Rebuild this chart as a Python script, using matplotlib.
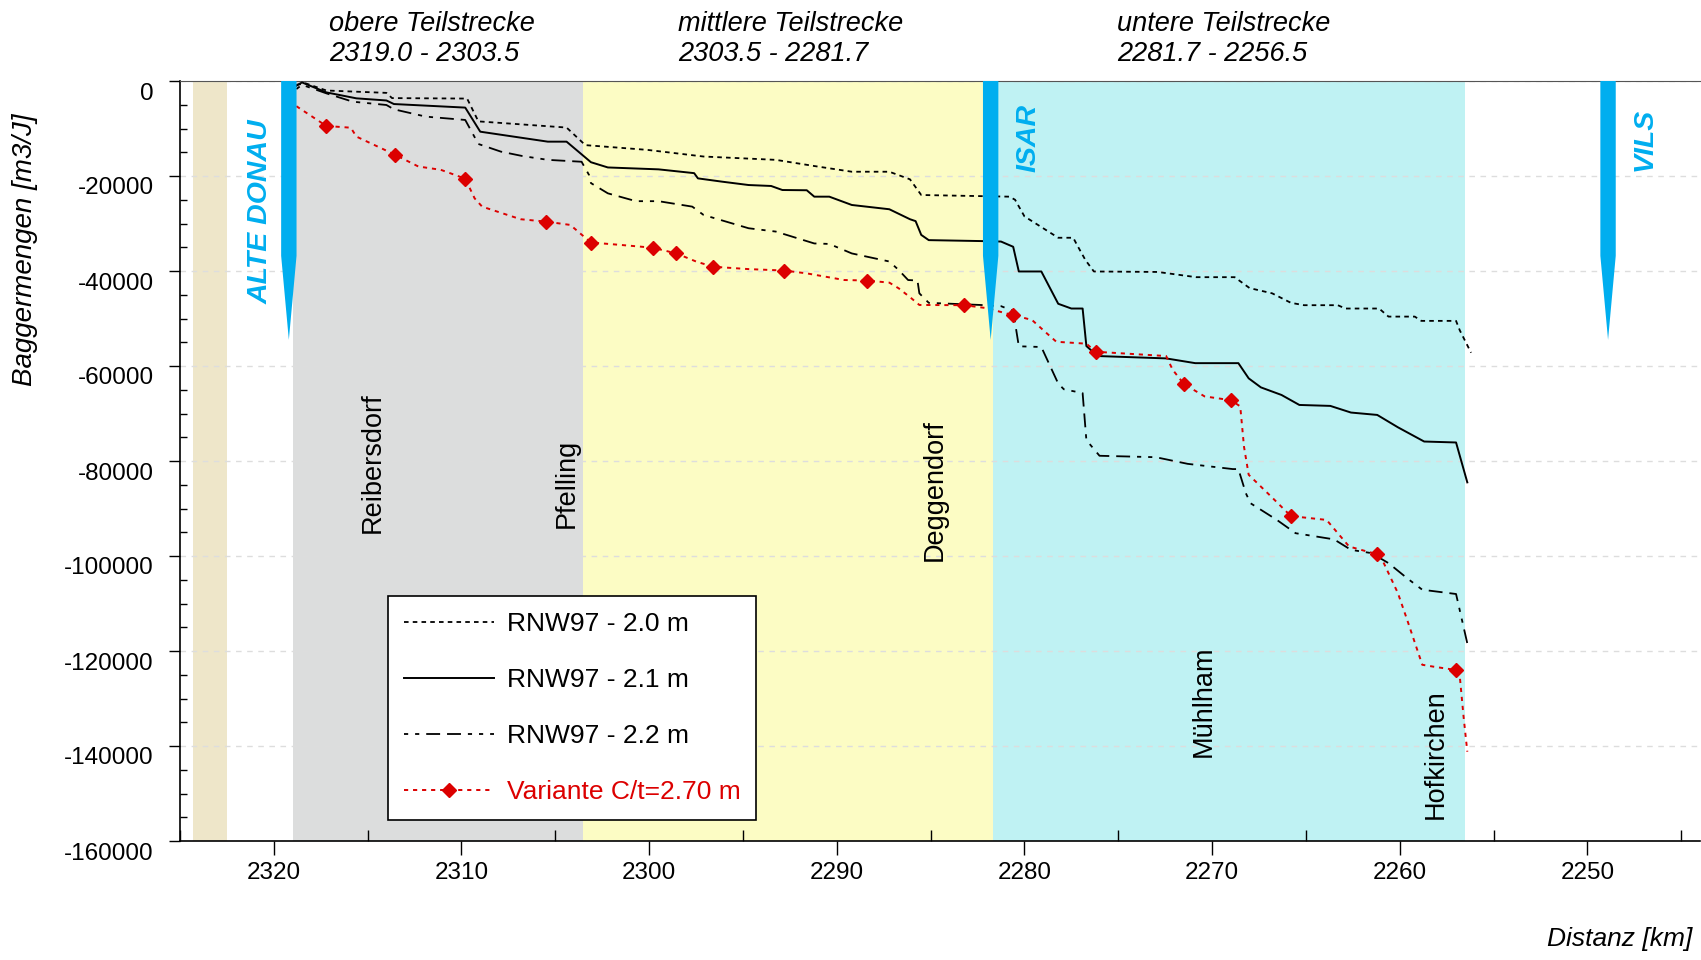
import matplotlib
matplotlib.use('Agg')
import matplotlib.pyplot as plt
import matplotlib.transforms as mtransforms
from matplotlib.lines import Line2D
import numpy as np

plt.rcParams['font.family'] = ['Liberation Sans', 'DejaVu Sans']
plt.rcParams['axes.unicode_minus'] = False
plt.rcParams['lines.scale_dashes'] = False

# river sections (km)
section_names = ['obere Teilstrecke', 'mittlere Teilstrecke', 'untere Teilstrecke']
section_start = [2319.0, 2303.5, 2281.7]
section_end = [2303.5, 2281.7, 2256.5]
section_colors = ['#dcdddd', '#fcfcc4', '#bff2f3']
extra_band = (2324.3, 2322.5)

# tributaries
rivers = ['ALTE DONAU', 'ISAR', 'VILS']
river_km = [2319.2, 2281.8, 2248.9]

# towns
towns = ['Reibersdorf', 'Pfelling', 'Deggendorf', 'Mühlham', 'Hofkirchen']
town_km = [2314.75, 2304.4, 2284.8, 2270.45, 2258.1]
town_label_y = [-80300, -84800, -86200, -130500, -141700]

# RNW97 - 2.0 m
km_20 = [2318.8, 2318.3, 2317.2, 2314.0, 2313.7, 2309.7, 2309.1, 2304.4, 2303.4,
         2300.1, 2297.1, 2293.25, 2291.2, 2289.2, 2287.2, 2286.1, 2285.5, 2280.8,
         2280.5, 2280.0, 2279.4, 2278.2, 2277.4, 2277.2, 2276.75, 2276.3, 2272.9,
         2270.85, 2268.8, 2268.0, 2266.8, 2265.8, 2265.1, 2263.3, 2262.9, 2261.1,
         2260.6, 2259.2, 2258.85, 2257.0, 2256.8, 2256.2]
val_20 = [-800, -500, -2000, -2500, -3600, -3700, -8500, -9800, -13500,
          -14500, -15900, -16600, -17900, -19100, -19100, -20700, -24000, -24350,
          -25000, -28500, -30000, -33000, -33000, -34500, -37700, -40100, -40200,
          -41300, -41300, -43600, -44700, -46700, -47200, -47200, -47900, -47900,
          -49600, -49600, -50500, -50500, -52500, -57200]

# RNW97 - 2.1 m
km_21 = [2318.8, 2318.5, 2317.2, 2315.6, 2314.0, 2313.6, 2309.8, 2309.0, 2306.6,
         2305.4, 2304.4, 2303.1, 2302.2, 2299.5, 2297.6, 2297.4, 2296.1, 2294.7,
         2293.5, 2292.9, 2291.6, 2291.2, 2290.4, 2289.2, 2287.2, 2286.1, 2285.8,
         2285.5, 2285.1, 2282.3, 2281.25, 2280.6, 2280.3, 2279.1, 2278.2, 2277.5,
         2276.9, 2276.7, 2276.1, 2272.45, 2270.9, 2268.6, 2268.05, 2267.4, 2266.3,
         2265.35, 2263.7, 2262.6, 2261.2, 2260.1, 2258.7, 2257.0, 2256.4]
val_21 = [-1000, -300, -2400, -3650, -4100, -4850, -5600, -10670, -12070,
          -12770, -12770, -17100, -18200, -18600, -19400, -20500, -21200, -21900,
          -22100, -22950, -23000, -24350, -24350, -26100, -27000, -29100, -29500,
          -32400, -33500, -33700, -33800, -34900, -40100, -40100, -46900, -47900,
          -47900, -55800, -57900, -58400, -59400, -59400, -62600, -64500, -66100,
          -68200, -68400, -69800, -70300, -72900, -75900, -76100, -84500]

# RNW97 - 2.2 m
km_22 = [2318.8, 2318.5, 2317.2, 2315.8, 2314.0, 2313.6, 2311.9, 2309.8, 2309.1,
         2307.9, 2306.75, 2305.4, 2303.6, 2303.2, 2303.1, 2302.2, 2300.7, 2299.5,
         2297.7, 2297.1, 2294.7, 2293.25, 2291.2, 2290.4, 2289.2, 2287.2, 2286.7,
         2286.2, 2285.7, 2285.6, 2285.1, 2282.05, 2281.25, 2280.6, 2280.3, 2279.1,
         2278.2, 2277.9, 2276.9, 2276.7, 2276.0, 2273.0, 2271.3, 2268.9, 2268.6,
         2268.2, 2267.95, 2266.55, 2265.55, 2263.5, 2262.6, 2261.5, 2260.6, 2259.6,
         2258.8, 2257.0, 2256.4]
val_22 = [-1700, -800, -2600, -4350, -5050, -5960, -7500, -8200, -13260,
          -14870, -15800, -16600, -17000, -19800, -21500, -23650, -25300, -25300,
          -26450, -28200, -31000, -31700, -34200, -34300, -36300, -38000, -39800,
          -41900, -42000, -44700, -46700, -47200, -47400, -48400, -55850, -56000,
          -63700, -64900, -65700, -75600, -78900, -79200, -80600, -81700, -81700,
          -86800, -88900, -92400, -95200, -96500, -98700, -99400, -101500, -104700,
          -107100, -108000, -118400]

# Variante C/t=2.70 m
km_var = [2318.8, 2317.2, 2315.9, 2315.6, 2313.55, 2312.3, 2311.1, 2309.8, 2309.3,
          2308.9, 2306.85, 2305.5, 2304.2, 2303.7, 2303.1, 2301.55, 2299.8, 2298.55,
          2297.5, 2296.6, 2294.7, 2292.8, 2291.6, 2289.6, 2288.4, 2287.2, 2286.7,
          2286.1, 2285.6, 2283.2, 2282.05, 2280.6, 2279.6, 2278.9, 2278.3, 2276.7,
          2276.2, 2272.45, 2272.1, 2271.5, 2270.4, 2269.0, 2268.5, 2268.3, 2268.05,
          2266.85, 2265.8, 2263.9, 2262.7, 2261.7, 2261.2, 2260.85, 2260.1, 2259.6,
          2258.8, 2258.2, 2257.0, 2256.8, 2256.6, 2256.4]
val_var = [-5300, -9470, -9830, -11700, -15500, -18000, -18700, -20560, -24700,
           -26450, -29100, -29600, -30300, -32000, -34000, -34500, -35100, -36300,
           -38000, -39100, -39600, -39900, -40500, -41900, -42000, -42450, -43650,
           -45500, -47150, -47200, -47800, -49300, -50300, -52800, -54900, -55300,
           -57000, -57900, -60800, -63800, -66400, -67200, -68500, -77000, -82900,
           -87500, -91600, -92400, -98000, -99100, -99600, -101500, -107800, -113500,
           -122900, -123300, -124000, -125400, -133800, -141200]
km_var_marks = [2317.2, 2313.55, 2309.8, 2305.5, 2303.1, 2299.8, 2298.55, 2296.6,
                2292.8, 2288.4, 2283.2, 2280.6, 2276.2, 2271.5, 2269.0, 2265.8,
                2261.2, 2257.0]
val_var_marks = [-9470, -15500, -20560, -29600, -34000, -35100, -36300, -39100,
                 -39900, -42000, -47200, -49300, -57000, -63800, -67200, -91600,
                 -99600, -124000]

red = '#dc0000'
blue = '#00aeef'
fs = 19.5
tick_fs = 17.5

fig = plt.figure(figsize=(17.01, 9.6), dpi=100)
ax = fig.add_axes([180 / 1701, 1 - 841 / 960, 1520 / 1701, 760 / 960])

# background bands
ax.axvspan(extra_band[0], extra_band[1], color='#eee6c9', lw=0, zorder=0.1)
for s, e, c in zip(section_start, section_end, section_colors):
    ax.axvspan(s, e, color=c, lw=0, zorder=0.1)

ax.grid(True, axis='y', color='#dddddd', ls=(0, (4, 4)), lw=1, zorder=0.5)
ax.set_axisbelow(True)

ax.plot(km_20, val_20, color='black', lw=1.3, ls=(0, (3.3, 3)), zorder=3)
ax.plot(km_21, val_21, color='black', lw=1.4, ls='-', zorder=3)
ax.plot(km_22, val_22, color='black', lw=1.3, ls=(0, (3, 5, 3, 5, 10, 5, 10, 5)), zorder=3)
ax.plot(km_var, val_var, color=red, lw=1.4, ls=(0, (3, 3.5)), zorder=4)
ax.plot(km_var_marks, val_var_marks, ls='none', marker='D', ms=7, color=red, zorder=5)

# tributary arrows
hw = 0.41
for name, k in zip(rivers, river_km):
    poly = [(k - hw, 0), (k + hw, 0), (k + hw, -36800), (k, -54500), (k - hw, -36800)]
    ax.fill([p[0] for p in poly], [p[1] for p in poly], color=blue, lw=0, zorder=6)
ax.text(2320.7, -27500, rivers[0], rotation=90, color=blue, fontsize=20.5,
        fontweight='bold', fontstyle='italic', ha='center', va='center', zorder=7)
ax.text(2279.8, -12000, rivers[1], rotation=90, color=blue, fontsize=20.5,
        fontweight='bold', fontstyle='italic', ha='center', va='center', zorder=7)
ax.text(2246.95, -12200, rivers[2], rotation=90, color=blue, fontsize=20.5,
        fontweight='bold', fontstyle='italic', ha='center', va='center', zorder=7)

for name, k, y in zip(towns, town_km, town_label_y):
    ax.text(k, y, name, rotation=90, fontsize=fs, ha='center', va='center', zorder=7)

# section captions above the plot
for name, s, e, xpx in zip(section_names, section_start, section_end, [329, 678, 1117]):
    fig.text(xpx / 1701, 1 - 39 / 960, f'{name}\n{s:.1f} - {e:.1f}', fontsize=19.5,
             fontstyle='italic', ha='left', va='center', linespacing=1.2)

ax.set_xlim(2325, 2244)
ax.set_ylim(-160000, 0)
ax.set_xticks(np.arange(2320, 2244, -10))
ax.set_xticks(np.arange(2325, 2244, -5), minor=True)
ax.set_yticks(np.arange(-160000, 1, 20000))
ax.set_yticks(np.arange(-160000, 1, 5000), minor=True)
ax.set_yticklabels([f'{v:d}' for v in np.arange(-160000, 1, 20000)])

ax.tick_params(axis='x', which='major', direction='out', length=10, width=1,
               labelsize=tick_fs, pad=5)
ax.tick_params(axis='x', which='minor', direction='in', length=8, width=1)
ax.tick_params(axis='y', which='major', direction='out', length=8, width=1,
               labelsize=tick_fs, pad=11)
ax.tick_params(axis='y', which='minor', direction='in', length=5, width=1)

off = mtransforms.ScaledTranslation(0, -10 / 100, fig.dpi_scale_trans)
for lab in ax.get_yticklabels():
    lab.set_transform(lab.get_transform() + off)

ax.spines['right'].set_visible(False)
ax.spines['top'].set_color('#555555')
for sp in ['left', 'bottom']:
    ax.spines[sp].set_color('black')
    ax.spines[sp].set_linewidth(1.2)

fig.text(25 / 1701, 1 - 250 / 960, 'Baggermengen [m3/J]', rotation=90, fontsize=20,
         fontstyle='italic', ha='center', va='center')
fig.text(1692 / 1701, 1 - 939 / 960, 'Distanz [km]', fontsize=19,
         fontstyle='italic', ha='right', va='center')

handles = [
    Line2D([], [], color='black', lw=1.3, ls=(0, (3.3, 3))),
    Line2D([], [], color='black', lw=1.4, ls='-'),
    Line2D([], [], color='black', lw=1.3, ls=(0, (3, 5, 3, 5, 10, 5, 10, 5))),
    Line2D([], [], color=red, lw=1.4, ls=(0, (3, 3.5)), marker='D', ms=7),
]
labels = ['RNW97 - 2.0 m', 'RNW97 - 2.1 m', 'RNW97 - 2.2 m', 'Variante C/t=2.70 m']
leg = ax.legend(handles, labels, loc='upper left', bbox_to_anchor=(388 / 1701, 1 - 596 / 960),
                bbox_transform=fig.transFigure, fontsize=19, frameon=True, fancybox=False,
                edgecolor='black', framealpha=1, handlelength=3.4, handletextpad=0.5,
                labelspacing=1.22, borderpad=0.6, borderaxespad=0)
leg.get_frame().set_linewidth(1.2)
leg.get_texts()[3].set_color(red)
leg.set_zorder(10)

fig.savefig('out.png', dpi=100)
